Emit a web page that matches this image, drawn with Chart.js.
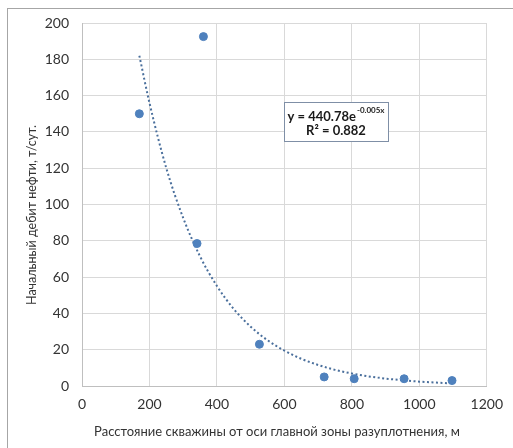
<!DOCTYPE html>
<html>
<head>
<meta charset="utf-8">
<script src="https://cdn.jsdelivr.net/npm/chart.js@4"></script>
<style>
  body { margin: 0; background: #fff; }
  #wrap { position: relative; width: 513px; height: 448px; overflow: hidden; }
  #frame { position: absolute; left: 7px; top: 8px; width: 520px; height: 460px; border: 1px solid #a6a6a6; box-sizing: border-box; }
  canvas { position: absolute; left: 0; top: 0; }
</style>
</head>
<body>
<div id="wrap">
  <div id="frame"></div>
  <canvas id="chart" width="513" height="448"></canvas>
</div>
<script>
// measured wells: distance from axis (m) and initial oil rate (t/day)
const distance = [170, 360, 341, 526, 718, 807, 955, 1097];
const oilRate  = [150, 192.5, 78.5, 23, 5, 4, 4, 3];

// exponential trendline as drawn in the picture
const trendX = [170, 200, 250, 300, 350, 400, 450, 500, 550, 600, 650, 700, 750, 800, 850, 900, 950, 1000, 1050, 1090];
const trendY = [182, 156, 120, 92.6, 71.4, 55.1, 42.4, 32.7, 25.2, 19.5, 15.0, 11.6, 8.9, 6.9, 5.3, 4.1, 3.2, 2.4, 1.9, 1.5];

const xTicks = [0, 200, 400, 600, 800, 1000, 1200];
const yTicks = [0, 20, 40, 60, 80, 100, 120, 140, 160, 180, 200];

const xTitle = 'Расстояние скважины от оси главной зоны разуплотнения, м';
const yTitle = 'Начальный дебит нефти, т/сут.';
const eqMain = 'y = 440.78e';
const eqSup = '-0.005x';
const eqR2 = 'R² = 0.882';

const FONT = 'Lato, "Open Sans", sans-serif';
const TEXT = '#333333';
const BLUE = '#4f81bd';

// axis titles and the equation label
const extras = {
  id: 'extras',
  afterDraw(chart) {
    const ctx = chart.ctx;
    const area = chart.chartArea;
    ctx.save();
    ctx.fillStyle = TEXT;
    ctx.textAlign = 'center';
    ctx.textBaseline = 'middle';
    ctx.font = '13px ' + FONT;
    ctx.fillText(xTitle, 277, 432);
    ctx.translate(32, 215);
    ctx.rotate(-Math.PI / 2);
    ctx.font = '12.5px ' + FONT;
    ctx.fillText(yTitle, 0, 0);
    ctx.restore();

    const x = area.left + 202, y = area.top + 79, w = 104, h = 39;
    ctx.save();
    ctx.fillStyle = '#fff';
    ctx.fillRect(x, y, w, h);
    ctx.strokeStyle = '#7f8fa6';
    ctx.lineWidth = 1;
    ctx.strokeRect(x + 0.5, y + 0.5, w, h);
    ctx.fillStyle = '#1a1a1a';
    ctx.textBaseline = 'alphabetic';
    ctx.font = 'bold 13px ' + FONT;
    const mainW = ctx.measureText(eqMain).width;
    ctx.font = 'bold 8px ' + FONT;
    const supW = ctx.measureText(eqSup).width;
    const tx = x + (w - mainW - supW - 1) / 2;
    ctx.font = 'bold 13px ' + FONT;
    ctx.textAlign = 'left';
    ctx.fillText(eqMain, tx, y + 19);
    ctx.font = 'bold 8px ' + FONT;
    ctx.fillText(eqSup, tx + mainW + 1, y + 11);
    ctx.font = 'bold 13px ' + FONT;
    ctx.textAlign = 'center';
    ctx.fillText(eqR2, x + w / 2, y + 33);
    ctx.restore();
  }
};

new Chart(document.getElementById('chart'), {
  type: 'scatter',
  data: {
    datasets: [
      {
        label: 'wells',
        data: distance.map((d, i) => ({ x: d, y: oilRate[i] })),
        backgroundColor: BLUE,
        borderColor: BLUE,
        pointRadius: 4,
        pointHoverRadius: 4,
        order: 1
      },
      {
        label: 'trend',
        type: 'line',
        data: trendX.map((d, i) => ({ x: d, y: trendY[i] })),
        borderColor: '#4a6f9c',
        borderWidth: 2,
        borderDash: [2, 2.5],
        pointRadius: 0,
        cubicInterpolationMode: 'monotone',
        fill: false,
        order: 2
      }
    ]
  },
  options: {
    responsive: false,
    animation: false,
    layout: { padding: { left: 20, top: 23, right: 26, bottom: 0 } },
    plugins: {
      legend: { display: false },
      tooltip: { enabled: false }
    },
    scales: {
      x: {
        type: 'linear',
        min: 0,
        max: 1200,
        afterBuildTicks: s => { s.ticks = xTicks.map(v => ({ value: v })); },
        afterFit: s => { s.height = 62; },
        grid: { color: '#d9d9d9', drawTicks: false },
        border: { color: '#bfbfbf' },
        ticks: { padding: 10, color: TEXT, font: { family: FONT, size: 14 }, callback: v => String(v) }
      },
      y: {
        min: 0,
        max: 200,
        afterBuildTicks: s => { s.ticks = yTicks.map(v => ({ value: v })); },
        afterFit: s => { s.width = 62; },
        grid: { color: '#d9d9d9', drawTicks: false },
        border: { color: '#bfbfbf' },
        ticks: { padding: 13, color: TEXT, font: { family: FONT, size: 14 }, callback: v => String(v) }
      }
    }
  },
  plugins: [extras]
});
</script>
</body>
</html>
